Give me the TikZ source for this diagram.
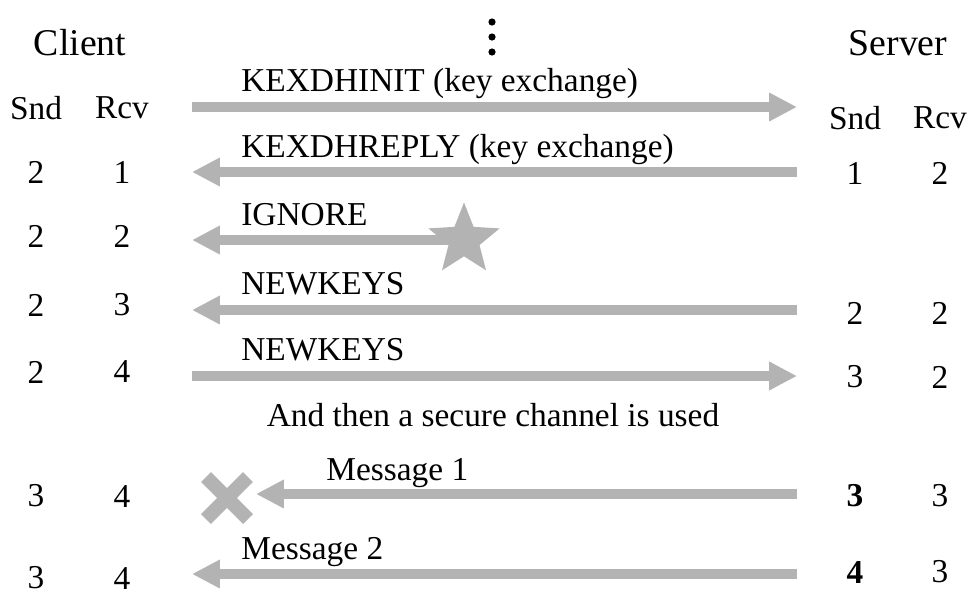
\documentclass[tikz,border=0pt]{standalone}
\usepackage{fontspec}
\setmainfont{Liberation Serif}
\usetikzlibrary{arrows.meta}
\usetikzlibrary{shapes.geometric}

\definecolor{msggray}{RGB}{179,179,179}

\tikzset{
  msg/.style={draw=msggray,line width=5.7pt,-{Triangle[length=15.9pt,width=15.3pt]}},
  lbl/.style={font=\fontsize{19}{21}\selectfont,text=black,anchor=base west,inner sep=0pt},
  num/.style={font=\fontsize{19}{21}\selectfont,text=black,anchor=center},
  party/.style={font=\fontsize{21.5}{24}\selectfont,text=black,anchor=center}
}

\begin{document}
\begin{tikzpicture}[x=0.02cm,y=-0.02cm]
\useasboundingbox (0,0) rectangle (979,596);

% headers
\node[party] (client) at (80,43) {Client};
\node[party] (server) at (898,43) {Server};
\fill (492,22) circle (3.6);
\fill (492,37) circle (3.6);
\fill (492,52) circle (3.6);

\node[num] (csnd) at (36,108) {Snd};
\node[num] (crcv) at (122,108) {Rcv};
\node[num] (ssnd) at (855,118) {Snd};
\node[num] (srcv) at (940,118) {Rcv};

% client counters
\node[num] (cs1) at (36,172) {2};  \node[num] (cr1) at (122,172) {1};
\node[num] (cs2) at (36,236) {2};  \node[num] (cr2) at (122,236) {2};
\node[num] (cs3) at (36,305) {2};  \node[num] (cr3) at (122,305) {3};
\node[num] (cs4) at (36,372) {2};  \node[num] (cr4) at (122,372) {4};
\node[num] (cs5) at (36,496) {3};  \node[num] (cr5) at (122,496) {4};
\node[num] (cs6) at (36,578) {3};  \node[num] (cr6) at (122,578) {4};

% server counters
\node[num] (ss1) at (855,173) {1};  \node[num] (sr1) at (940,173) {2};
\node[num] (ss3) at (855,313) {2};  \node[num] (sr3) at (940,313) {2};
\node[num] (ss4) at (855,377) {3};  \node[num] (sr4) at (940,377) {2};
\node[num] (ss5) at (855,496) {\textbf{3}};  \node[num] (sr5) at (940,496) {3};
\node[num] (ss6) at (855,572) {\textbf{4}};  \node[num] (sr6) at (940,572) {3};

% message end points
\coordinate (cA) at (192,107); \coordinate (sA) at (797,107);
\coordinate (cB) at (192,172); \coordinate (sB) at (797,172);
\coordinate (cC) at (192,240);
\coordinate (cD) at (192,310); \coordinate (sD) at (797,310);
\coordinate (cE) at (192,376); \coordinate (sE) at (797,376);
\coordinate (cF) at (256,494); \coordinate (sF) at (797,494);
\coordinate (cG) at (192,574); \coordinate (sG) at (797,574);

% lost and dropped markers
\node[star,star points=5,star point ratio=2.3,fill=msggray,minimum size=1.5cm,inner sep=0pt] (lost) at (464,240) {};
\draw[msggray,line width=8pt] (206,477) -- (248,519);
\draw[msggray,line width=8pt] (248,477) -- (206,519);
\coordinate (drop) at (227,498);

% messages
\draw[msg] (cA) -- (sA);
\node[lbl] (kexinit) at (241,91) {KEXDHINIT (key exchange)};
\draw[msg] (sB) -- (cB);
\node[lbl] (kexreply) at (241,157) {KEXDHREPLY (key exchange)};
\draw[msg] (lost.center) -- (cC);
\node[lbl] (ignore) at (241,225) {IGNORE};
\draw[msg] (sD) -- (cD);
\node[lbl] (newkeysS) at (241,294) {NEWKEYS};
\draw[msg] (cE) -- (sE);
\node[lbl] (newkeysC) at (241,360) {NEWKEYS};

\node[num] (secure) at (493,415) {And then a secure channel is used};

\draw[msg] (sF) -- (cF);
\node[lbl] (msg1) at (326,480) {Message 1};
\draw[msg] (sG) -- (cG);
\node[lbl] (msg2) at (241,559) {Message 2};

\end{tikzpicture}
\end{document}
